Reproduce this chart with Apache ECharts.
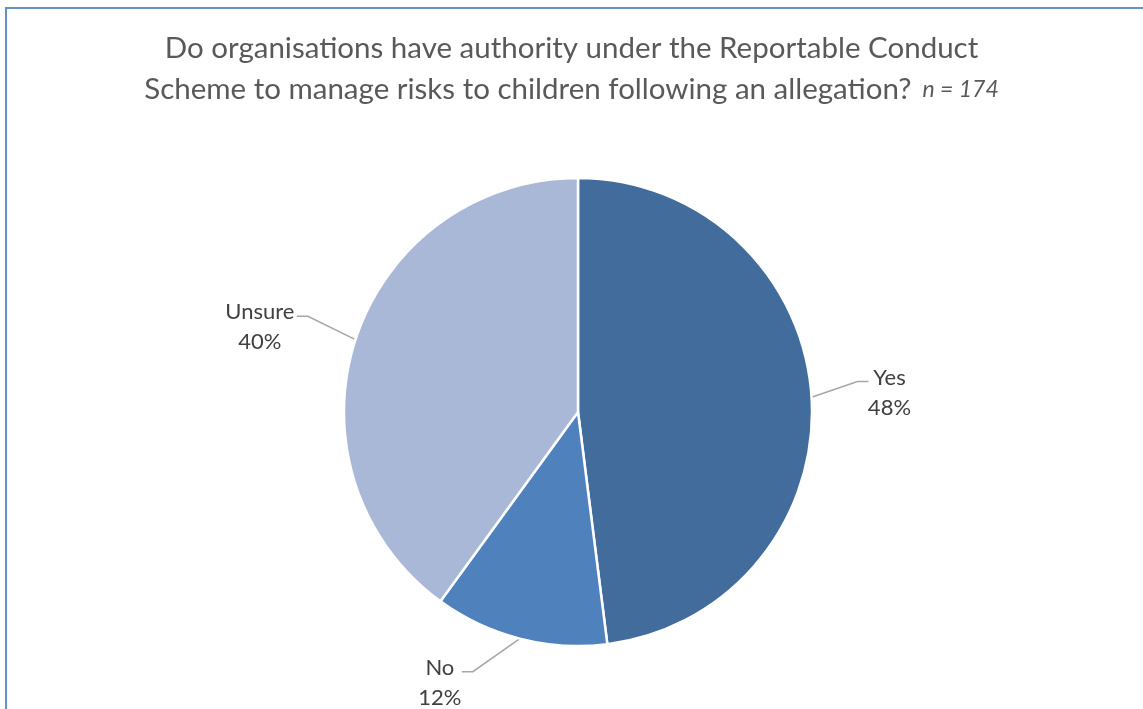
<!DOCTYPE html>
<html>
<head>
<meta charset="utf-8">
<script src="https://cdn.jsdelivr.net/npm/echarts@6/dist/echarts.min.js"></script>
<style>
  html, body { margin: 0; padding: 0; background: #fff; }
  #frame {
    position: absolute; left: 5px; top: 7px; width: 1200px; height: 800px;
    border: 2px solid #6690C8; box-sizing: border-box;
  }
  #chart { position: absolute; left: 0; top: 0; width: 1143px; height: 709px; }
</style>
</head>
<body>
<div id="frame"></div>
<div id="chart"></div>
<script>
// Survey responses (percent of respondents, n = 174)
const categories = ['Yes', 'No', 'Unsure'];
const shares = [48, 12, 40];
const sliceColors = ['#416C9C', '#4F81BD', '#A9B8D6'];

const titleLine1 = 'Do organisations have authority under the Reportable Conduct';
const titleLine2 = 'Scheme to manage risks to children following an allegation?';
const sampleNote = 'n = 174';

const FONT = 'Lato, "Liberation Sans", sans-serif';

// Extra nudge for each callout (label and the elbow of its leader line move together)
const calloutShift = {
  Yes: [0, -13],
  No: [-39, 2],
  Unsure: [0, -8]
};
const calloutLength = { Yes: 46, No: 32, Unsure: 50 };
const calloutWidth = { Yes: 40, No: 42, Unsure: 72 };

const chart = echarts.init(document.getElementById('chart'), null, { renderer: 'canvas' });

chart.setOption({
  animation: false,
  title: {
    text: '{t|' + titleLine1 + '}\n{t|' + titleLine2 + '}{n|' + sampleNote + '}',
    left: 'center',
    top: 23,
    textStyle: {
      fontWeight: 'normal',
      rich: {
        t: { fontFamily: FONT, fontSize: 29.5, fontWeight: 'normal', color: '#595959', lineHeight: 41 },
        n: { fontFamily: FONT, fontSize: 23, fontWeight: 'normal', color: '#595959', fontStyle: 'italic', lineHeight: 41, padding: [0, 0, 0, 11] }
      }
    }
  },
  series: [{
    type: 'pie',
    center: [578, 412],
    radius: [0, 234],
    startAngle: 90,
    clockwise: true,
    itemStyle: { borderColor: '#ffffff', borderWidth: 2.5 },
    label: {
      show: true,
      position: 'outside',
      formatter: '{a|{b}}\n{a|{d}%}',
      padding: [22, 0, 0, 0],
      rich: {
        a: { fontFamily: FONT, fontSize: 22, color: '#404040', lineHeight: 30, align: 'center' }
      },
      distanceToLabelLine: 1
    },
    labelLine: {
      show: true,
      length: 40,
      length2: 11,
      smooth: false,
      lineStyle: { color: '#A6A6A6', width: 1.5 }
    },
    labelLayout: function (params) {
      const name = categories[params.dataIndex];
      const [dx, dy] = calloutShift[name];
      const pts = params.labelLinePoints;
      if (!pts) return { dx: dx, dy: dy };
      return {
        dx: dx,
        dy: dy,
        labelLinePoints: [
          pts[0],
          [pts[1][0] + dx, pts[1][1] + dy],
          [pts[2][0] + dx, pts[2][1] + dy]
        ]
      };
    },
    data: categories.map((c, i) => ({
      name: c,
      value: shares[i],
      itemStyle: { color: sliceColors[i] },
      labelLine: { length: calloutLength[c] },
      label: {
        rich: {
          a: { fontFamily: FONT, fontSize: 22, color: '#404040', lineHeight: 30, align: 'center', width: calloutWidth[c] }
        }
      }
    }))
  }]
});
</script>
</body>
</html>
